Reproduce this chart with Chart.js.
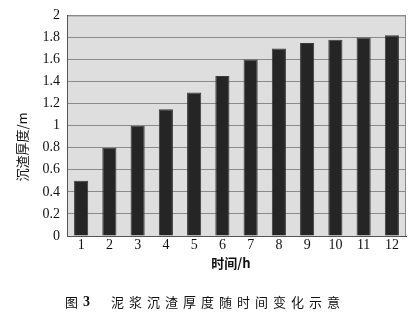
<!DOCTYPE html>
<html>
<head>
<meta charset="utf-8">
<script src="https://cdn.jsdelivr.net/npm/chart.js@4.4.0/dist/chart.umd.min.js"></script>
<style>
  html, body { margin: 0; padding: 0; background: #fff; }
  #wrap { width: 418px; height: 316px; position: relative; }
</style>
</head>
<body>
<div id="wrap"><canvas id="chart"></canvas></div>
<script>
const hours = ['1', '2', '3', '4', '5', '6', '7', '8', '9', '10', '11', '12'];
const thickness = [0.5, 0.8, 1.0, 1.15, 1.3, 1.45, 1.6, 1.7, 1.75, 1.78, 1.8, 1.82];
const xTitle = '时间/h';
const yTitle = '沉渣厚度/m';
const captionNo = '图 3';
const captionText = '泥浆沉渣厚度随时间变化示意';

// grey panel behind the bars
const plotBg = {
    id: 'plotBg',
    beforeDraw(chart) {
        const {ctx, chartArea: a} = chart;
        ctx.save();
        ctx.fillStyle = '#dedede';
        ctx.fillRect(a.left, a.top, a.right - a.left, a.bottom - a.top);
        ctx.strokeStyle = '#8a8a8a';
        ctx.lineWidth = 1;
        ctx.strokeRect(a.left + 0.5, a.top + 0.5, a.right - a.left - 1, a.bottom - a.top);
        ctx.restore();
    }
};

// axis titles and figure caption
const labelsText = {
    id: 'labelsText',
    afterDraw(chart) {
        const {ctx} = chart;
        ctx.save();
        ctx.fillStyle = '#111';
        ctx.textBaseline = 'middle';
        ctx.textAlign = 'center';

        ctx.font = 'bold 13px "Noto Sans CJK SC"';
        ctx.fillText(xTitle, 231, 263);

        ctx.save();
        ctx.translate(22, 147);
        ctx.rotate(-Math.PI / 2);
        ctx.font = '13px "Noto Sans CJK SC"';
        ctx.fillText(yTitle, 0, 0);
        ctx.restore();

        ctx.textAlign = 'left';
        ctx.font = '13px "Noto Sans CJK SC"';
        ctx.fillText(captionNo.split(' ')[0], 65, 302);
        ctx.font = 'bold 14px "Liberation Serif"';
        ctx.fillText(captionNo.split(' ')[1], 83, 302);
        ctx.font = '13px "Noto Sans CJK SC"';
        ctx.letterSpacing = '5px';
        ctx.fillText(captionText, 111, 302);
        ctx.restore();
    }
};

const ctx = document.getElementById('chart').getContext('2d');

new Chart(ctx, {
    type: 'bar',
    data: {
        labels: hours,
        datasets: [{
            data: thickness,
            backgroundColor: '#252525',
            borderColor: '#3a3a3a',
            borderWidth: 1,
            barPercentage: 0.5,
            categoryPercentage: 1.0
        }]
    },
    options: {
        responsive: true,
        maintainAspectRatio: false,
        animation: false,
        layout: { padding: { top: 14, right: 12, left: 0, bottom: 0 } },
        plugins: {
            legend: { display: false },
            tooltip: { enabled: false }
        },
        scales: {
            x: {
                grid: { display: false },
                border: { color: '#555' },
                afterFit: s => { s.height = 80; },
                ticks: {
                    color: '#111',
                    font: { family: '"Liberation Serif", serif', size: 14 },
                    padding: -7,
                    maxRotation: 0
                }
            },
            y: {
                min: 0,
                max: 2,
                grid: { color: '#8a8a8a', drawTicks: false },
                border: { color: '#555' },
                afterFit: s => { s.width = 67; },
                ticks: {
                    stepSize: 0.2,
                    color: '#111',
                    font: { family: '"Liberation Serif", serif', size: 14 },
                    padding: 7,
                    callback: v => Math.round(v * 10) / 10
                }
            }
        }
    },
    plugins: [plotBg, labelsText]
});
</script>
</body>
</html>
